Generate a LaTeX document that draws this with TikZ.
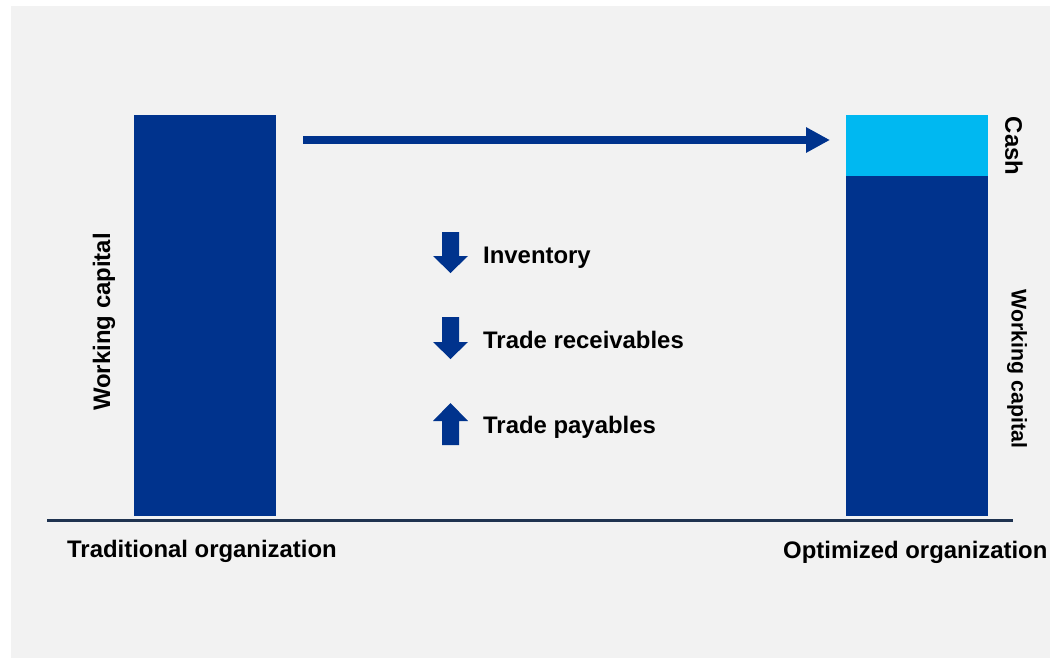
\documentclass[tikz,border=0pt]{standalone}
\usepackage{fontspec}
\setmainfont{Liberation Sans}
\usetikzlibrary{arrows.meta,shapes.arrows}
\definecolor{navy}{RGB}{0,51,141}
\definecolor{cashblue}{RGB}{0,184,241}
\definecolor{bg}{RGB}{242,242,242}
\definecolor{axis}{RGB}{31,51,80}
\tikzset{
  lbl/.style={font=\fontsize{23.9}{28}\selectfont\bfseries, text=black, inner sep=0pt},
  bar/.style={fill=navy, draw=none},
  blockarrow/.style={single arrow, fill=navy, draw=none, minimum width=35pt, single arrow head extend=9pt, inner sep=0pt, minimum height=41pt, single arrow tip angle=90},
}
\begin{document}
\begin{tikzpicture}[x=1pt,y=-1pt]
\useasboundingbox (0,0) rectangle (1050,659);
\fill[white] (0,0) rectangle (1050,659);
\fill[bg] (11,6) rectangle (1050,658);
% bars
\fill[bar] (134,115) rectangle (276,516);
\fill[bar] (846,176) rectangle (988,516);
\fill[cashblue] (846,115) rectangle (988,176);
\node[inner sep=0pt] (left) at (205,315) {};
\node[inner sep=0pt] (right) at (917,315) {};
% axis
\coordinate (ax1) at (47,520);
\coordinate (ax2) at (1013,520);
\draw[axis, line width=3pt] (ax1) -- (ax2);
% big arrow
\coordinate (a1) at (303,140);
\coordinate (a2) at (830,140);
\draw[navy, line width=8pt, -{Triangle[length=24pt,width=24pt]}] (a1) -- (a2);
% block arrows
\fill[navy] (442,232) -- (459,232) -- (459,256) -- (468,256) -- (450.5,273) -- (433,256) -- (442,256) -- cycle;
\fill[navy] (442,317) -- (459,317) -- (459,342) -- (468,342) -- (450.5,359) -- (433,342) -- (442,342) -- cycle;
\fill[navy] (442,445) -- (459,445) -- (459,421) -- (468,421) -- (450.5,403) -- (433,421) -- (442,421) -- cycle;
% labels
\node[lbl, anchor=base west] (inv) at (483,263) {Inventory};
\node[lbl, anchor=base west] (rec) at (483,348) {Trade receivables};
\node[lbl, anchor=base west] (pay) at (483,433) {Trade payables};
\node[lbl, anchor=base west] (trad) at (67,557) {Traditional organization};
\node[lbl, anchor=base west] (opt) at (783,558) {Optimized organization};
\node[lbl, rotate=90] (wcl) at (104,322) {Working capital};
\node[lbl, rotate=-90, font=\fontsize{21.3}{26}\selectfont\bfseries] (wcr) at (1017,369) {Working capital};
\node[lbl, rotate=-90] (cash) at (1014,146) {Cash};
\end{tikzpicture}
\end{document}
